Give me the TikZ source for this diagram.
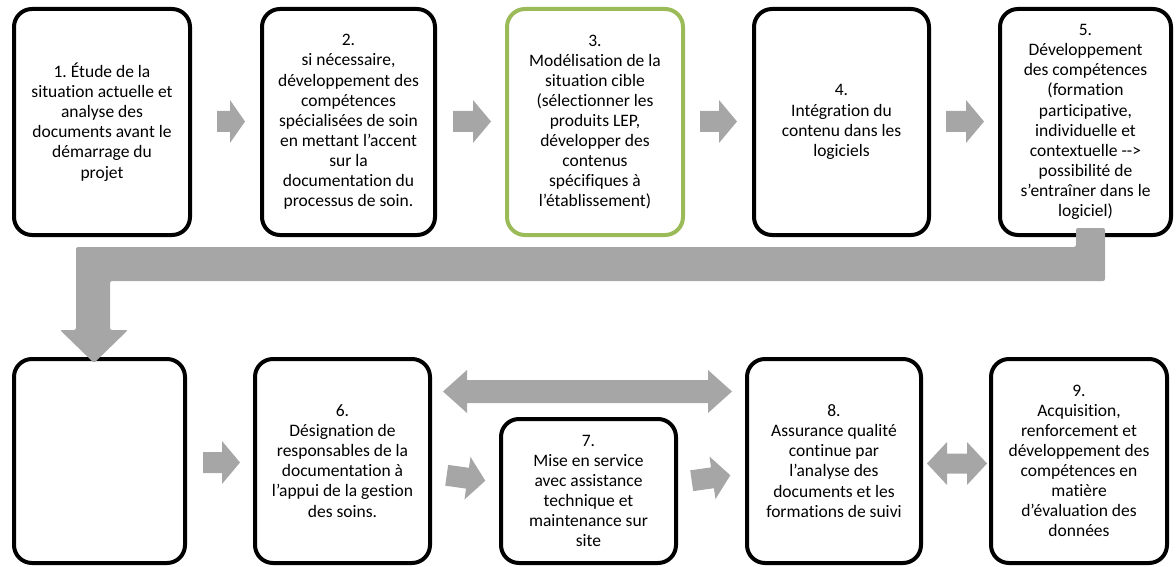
\documentclass[tikz,border=0pt]{standalone}
\usepackage{fontspec}
\setmainfont[Ligatures={TeX,NoCommon}]{Carlito}
\frenchspacing
\definecolor{arrowgray}{HTML}{A6A6A6}
\definecolor{boxgreen}{HTML}{9BBB59}
\tikzset{
  stepbox/.style={draw=black, line width=4pt, rounded corners=18pt, fill=white,
    align=center, font=\fontsize{17.5}{20.1}\selectfont, inner sep=0pt},
  greenbox/.style={stepbox, draw=boxgreen},
  grayfill/.style={fill=arrowgray, draw=none},
}
% single block arrow: cx, cy, length, head length, rotation
\newcommand{\grayarrow}[5]{%
  \fill[grayfill, shift={(#1,#2)}, rotate=#5]
    (-#3/2,-10.5) -- (#3/2-#4,-10.5) -- (#3/2-#4,-21.5) -- (#3/2,0)
    -- (#3/2-#4,21.5) -- (#3/2-#4,10.5) -- (-#3/2,10.5) -- cycle;}
% double block arrow: cx, cy, length, head length, body half height
\newcommand{\grayddarrow}[5]{%
  \fill[grayfill, shift={(#1,#2)}]
    (-#3/2,0) -- (-#3/2+#4,-21.5) -- (-#3/2+#4,-#5) -- (#3/2-#4,-#5)
    -- (#3/2-#4,-21.5) -- (#3/2,0) -- (#3/2-#4,21.5) -- (#3/2-#4,#5)
    -- (-#3/2+#4,#5) -- (-#3/2+#4,21.5) -- cycle;}
\begin{document}
\begin{tikzpicture}[x=1pt,y=-1pt]
\useasboundingbox (0,0) rectangle (1176,567);

% top row
\node[stepbox, minimum width=176pt, minimum height=226pt] (s1) at (102,122)
  {1. Étude de la\\situation actuelle et\\analyse des\\documents avant le\\démarrage du\\projet};
\node[stepbox, minimum width=173pt, minimum height=226pt] (s2) at (348.5,122)
  {2.\\si nécessaire,\\développement des\\compétences\\spécialisées de soin\\en mettant l’accent\\sur la\\documentation du\\processus de soin.};
\node[greenbox, minimum width=176pt, minimum height=226pt] (s3) at (595,122)
  {3.\\Modélisation de la\\situation cible\\(sélectionner les\\produits LEP,\\développer des\\contenus\\spécifiques à\\l’établissement)};
\node[stepbox, minimum width=175pt, minimum height=226pt] (s4) at (841.5,122)
  {4.\\Intégration du\\contenu dans les\\logiciels};
\node[stepbox, minimum width=171pt, minimum height=226pt] (s5) at (1085.5,122)
  {5.\\Développement\\des compétences\\(formation\\participative,\\individuelle et\\contextuelle -{}-{}>\\possibilité de\\s’entraîner dans le\\logiciel)};

% bottom row
\node[stepbox, minimum width=171pt, minimum height=204pt] (sa) at (99.5,461) {};
\node[stepbox, minimum width=175pt, minimum height=204pt] (s6) at (342.5,461)
  {6.\\Désignation de\\responsables de la\\documentation à\\l’appui de la gestion\\des soins.};
\node[stepbox, minimum width=175pt, minimum height=144pt] (s7) at (588.5,491)
  {7.\\Mise en service\\avec assistance\\technique et\\maintenance sur\\site};
\node[stepbox, minimum width=174pt, minimum height=204pt] (s8) at (834,461)
  {8.\\Assurance qualité\\continue par\\l’analyse des\\documents et les\\formations de suivi};
\node[stepbox, minimum width=176pt, minimum height=204pt] (s9) at (1079,461)
  {9.\\Acquisition,\\renforcement et\\développement des\\compétences en\\matière\\d’évaluation des\\données};

% top row arrows
\grayarrow{231}{121.5}{28}{15}{0}
\grayarrow{472}{121.5}{38}{18}{0}
\grayarrow{718.5}{121.5}{37}{18}{0}
\grayarrow{965}{121.5}{38}{18}{0}

% bent connector from step 5 down to the first bottom box
\fill[grayfill, rounded corners=2pt]
  (1076,228) -- (1105,228) -- (1105,281) -- (110,281) -- (110,330)
  -- (128,330) -- (94,363) -- (60,330) -- (76,330) -- (76,247)
  -- (1076,247) -- cycle;

% bottom row arrows
\grayarrow{221.5}{462.5}{37}{18}{0}
\grayarrow{466}{478}{39}{18}{-8}
\grayarrow{711}{478}{39}{18}{8}
\grayddarrow{587.5}{391.5}{289}{24}{11.5}
\grayddarrow{957}{463.5}{60}{20}{10}
\end{tikzpicture}
\end{document}
